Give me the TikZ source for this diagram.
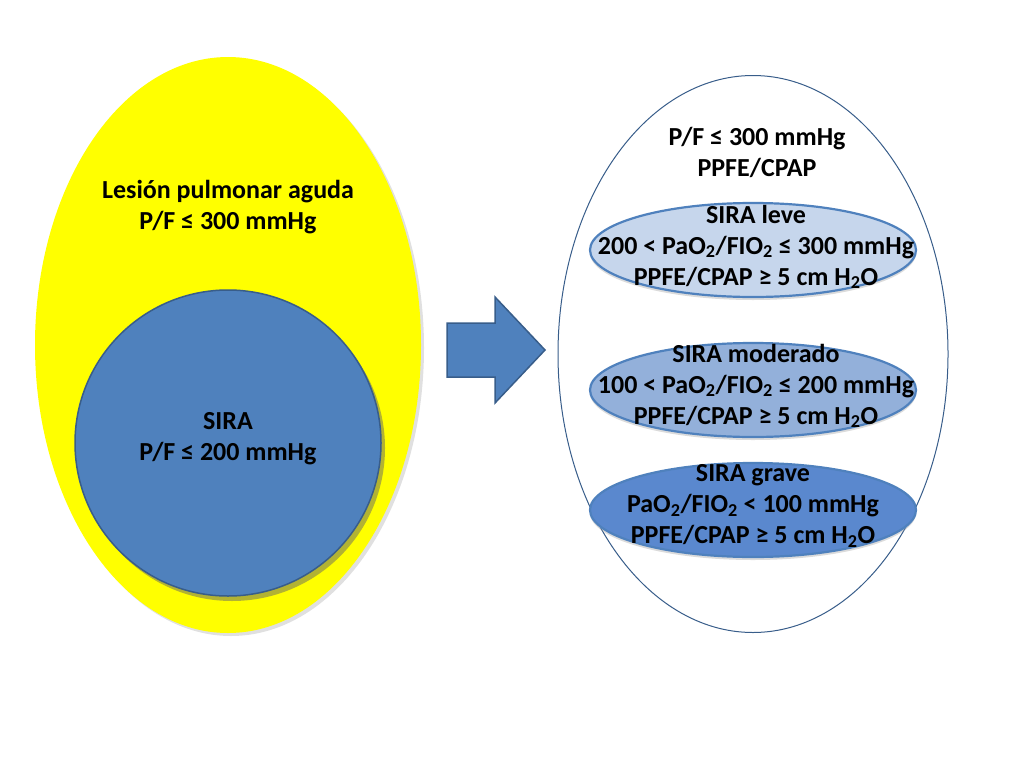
\documentclass[tikz,border=0pt]{standalone}
\usepackage{fontspec}
\setmainfont{Carlito}
\usepackage{xcolor}
\usepackage{tikz}
\usetikzlibrary{shapes.geometric,shadows}
\definecolor{aliyellow}{HTML}{FFFF00}
\definecolor{sirablue}{HTML}{4F81BD}
\definecolor{siraedge}{HTML}{385D8A}
\definecolor{leveblue}{HTML}{C6D6EC}
\definecolor{modblue}{HTML}{93B0DA}
\definecolor{graveblue}{HTML}{5A88CE}
\tikzset{
  txt/.style={font=\fontsize{26}{31}\selectfont\bfseries, align=center, text=black, inner sep=0pt},
  grade/.style={ellipse, draw=sirablue, line width=2.2pt, minimum width=326pt, minimum height=94pt, inner sep=0pt,
    drop shadow={shadow xshift=0pt, shadow yshift=-3pt, fill=black!40, opacity=0.35}},
}

\begin{document}
\begin{tikzpicture}[x=1pt, y=-1pt]
    \useasboundingbox (0,0) rectangle (1024,768);

    % Left: yellow ellipse with SIRA circle
    \node[ellipse, fill=aliyellow, minimum width=386pt, minimum height=576pt, inner sep=0pt,
      drop shadow={shadow xshift=3pt, shadow yshift=-3pt, fill=black!30, opacity=0.4}] (ali) at (228,345) {};
    \node[txt] (alitext) at (228,207) {Lesión pulmonar aguda\\P/F ≤ 300 mmHg};

    \node[circle, fill=sirablue, draw=siraedge, line width=1.5pt, minimum size=306pt, inner sep=0pt,
      drop shadow={shadow xshift=4pt, shadow yshift=-5pt, fill=black!60, opacity=0.5}] (sira) at (228,443) {};
    \node[txt] (siratext) at (228,439) {SIRA\\P/F ≤ 200 mmHg};

    % Arrow
    \draw[fill=sirablue, draw=siraedge, line width=1.5pt, line join=miter]
      (447,323) -- (495,323) -- (495,297) -- (545,350) -- (495,403) -- (495,377) -- (447,377) -- cycle;

    % Right: Berlin grades
    \node[ellipse, fill=white, draw=siraedge, line width=1pt, minimum width=390pt, minimum height=557pt, inner sep=0pt] (berlin) at (753,354) {};
    \node[txt] (berlintext) at (757,152) {P/F ≤ 300 mmHg\\PPFE/CPAP};

    \node[grade, fill=leveblue] (leve) at (753,250) {};
    \node[txt] (levetext) at (756,247) {SIRA leve\\200 < PaO\textsubscript{2}/FIO\textsubscript{2} ≤ 300 mmHg\\PPFE/CPAP ≥ 5 cm H\textsubscript{2}O};

    \node[grade, fill=modblue] (mod) at (753,390) {};
    \node[txt] (modtext) at (756,386) {SIRA moderado\\100 < PaO\textsubscript{2}/FIO\textsubscript{2} ≤ 200 mmHg\\PPFE/CPAP ≥ 5 cm H\textsubscript{2}O};

    \node[grade, fill=graveblue] (grave) at (753,510) {};
    \node[txt] (gravetext) at (753,506) {SIRA grave\\PaO\textsubscript{2}/FIO\textsubscript{2} < 100 mmHg\\PPFE/CPAP ≥ 5 cm H\textsubscript{2}O};
\end{tikzpicture}
\end{document}
